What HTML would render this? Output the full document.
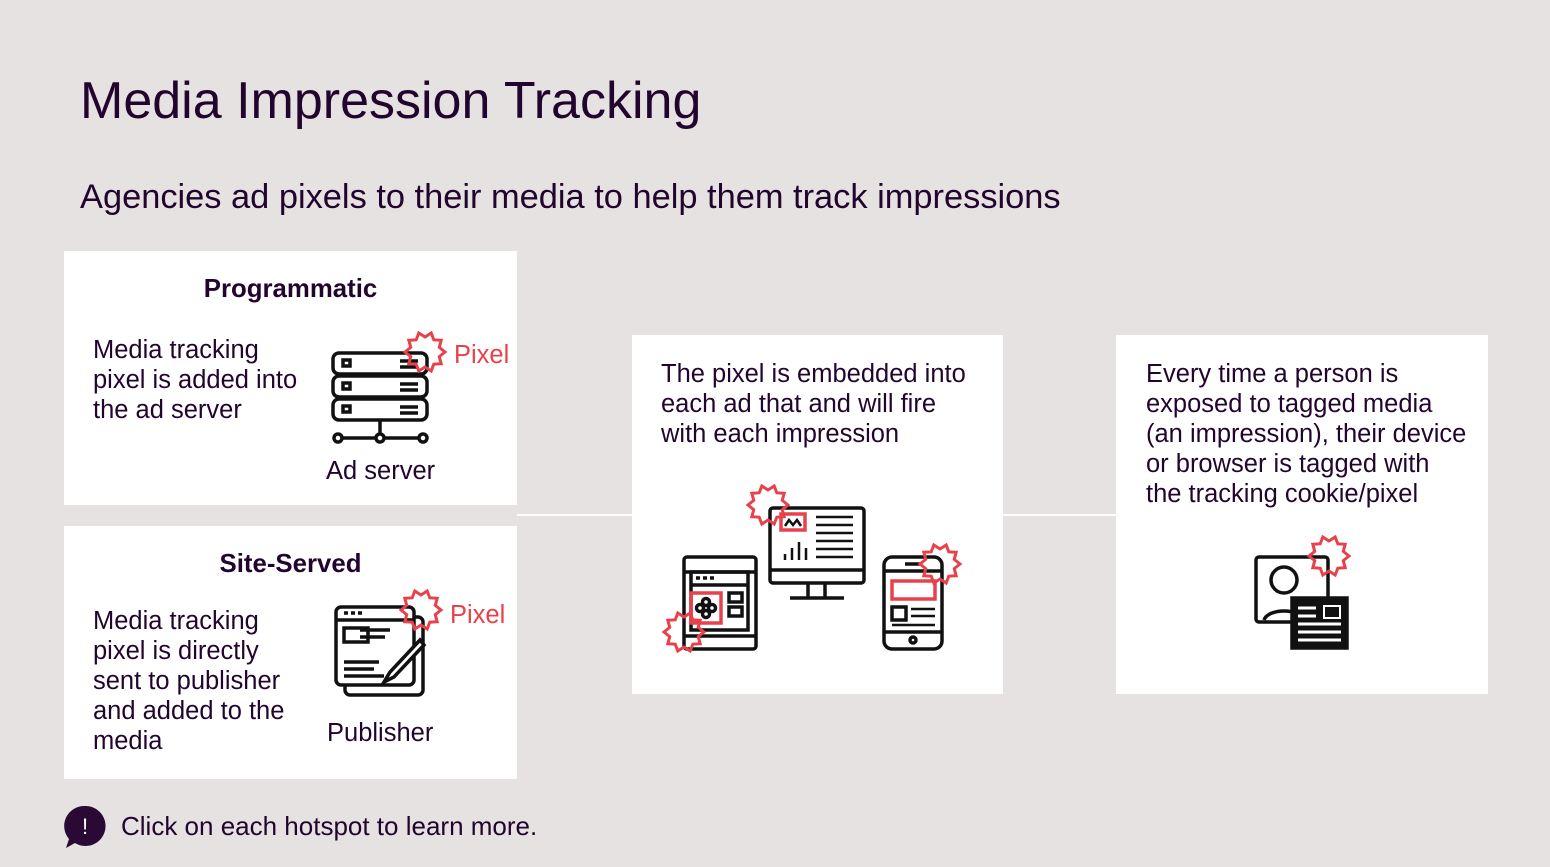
<!DOCTYPE html>
<html><head><meta charset="utf-8"><style>
body{margin:0;width:1550px;height:867px;background:#e6e2e1;font-family:"Liberation Sans",sans-serif;color:#22052e;position:relative;overflow:hidden}
.a{position:absolute}
.box{position:absolute;background:#fff}
.t{font-size:25.5px;line-height:30px;position:absolute}
.red{color:#e8414b}
</style></head><body>
<div class="a" style="left:80px;top:71px;font-size:52px">Media Impression Tracking</div>
<div class="a" style="left:80px;top:178px;font-size:34.4px">Agencies ad pixels to their media to help them track impressions</div>
<div class="box" style="left:64px;top:251px;width:453px;height:254px"></div>
<div class="box" style="left:64px;top:526px;width:453px;height:253px"></div>
<div class="box" style="left:632px;top:335px;width:371px;height:359px"></div>
<div class="box" style="left:1116px;top:335px;width:372px;height:359px"></div>
<div class="a" style="left:517px;top:514px;width:115px;height:2px;background:#fff"></div>
<div class="a" style="left:1003px;top:514px;width:113px;height:2px;background:#fff"></div>

<div class="a" style="left:64px;width:453px;top:275px;text-align:center;font-weight:bold;font-size:25.8px">Programmatic</div>
<div class="t" style="left:93px;top:335px">Media tracking<br>pixel is added into<br>the ad server</div>
<div class="t red" style="left:454px;top:340px">Pixel</div>
<div class="t" style="left:326px;top:456px">Ad server</div>

<div class="a" style="left:64px;width:453px;top:550px;text-align:center;font-weight:bold;font-size:25.8px">Site-Served</div>
<div class="t" style="left:93px;top:606px">Media tracking<br>pixel is directly<br>sent to publisher<br>and added to the<br>media</div>
<div class="t red" style="left:450px;top:600px">Pixel</div>
<div class="t" style="left:327px;top:718px">Publisher</div>

<div class="t" style="left:661px;top:359px">The pixel is embedded into<br>each ad that and will fire<br>with each impression</div>
<div class="t" style="left:1146px;top:359px">Every time a person is<br>exposed to tagged media<br>(an impression), their device<br>or browser is tagged with<br>the tracking cookie/pixel</div>

<div class="a" style="left:121px;top:811px;font-size:26px">Click on each hotspot to learn more.</div>

<svg class="a" style="left:0;top:0" width="1550" height="867" viewBox="0 0 1550 867">
<defs><polygon id="st" fill="none" stroke="#e8414b" stroke-width="3" points="20,0 14.27,4.64 16.18,11.76 8.82,12.14 6.18,19.02 0,15 -6.18,19.02 -8.82,12.14 -16.18,11.76 -14.27,4.64 -20,0 -14.27,-4.64 -16.18,-11.76 -8.82,-12.14 -6.18,-19.02 0,-15 6.18,-19.02 8.82,-12.14 16.18,-11.76 14.27,-4.64"/></defs>
<g fill="none" stroke="#111" stroke-width="3.5">
<rect x="333" y="353" width="94" height="21" rx="6"/><rect x="333" y="376" width="94" height="21" rx="6"/><rect x="333" y="399" width="94" height="21" rx="6"/>
<rect x="343" y="360" width="7" height="6"/><rect x="343" y="383" width="7" height="6"/><rect x="343" y="406" width="7" height="6"/>
<path d="M400 361h18M400 367h18M400 384h18M400 390h18M400 407h18M400 413h18M380 420v18M343 438h75"/>
<circle cx="338" cy="438" r="4" fill="#fff"/><circle cx="380" cy="438" r="4" fill="#fff"/><circle cx="423" cy="438" r="4" fill="#fff"/>
<rect x="345" y="617" width="78" height="78" rx="5"/><rect x="336" y="607" width="78" height="78" rx="5" fill="#fff"/>
<path d="M336 620h78M344 613h4M351 613h4M358 613h4M360 630h30M360 637h25M344 662h35M344 669h30M344 676h40"/>
<rect x="344" y="628" width="24" height="14"/>
<path d="M420 640l-30 32-6 10 10-5 30-32z" fill="#fff"/>
<rect x="684" y="557" width="72" height="92" rx="3"/><path d="M684 572h72M684 636h72"/><rect x="691" y="572" width="57" height="58"/>
<path d="M691 585h57M696 578h4M703 578h4M710 578h4"/><rect x="729" y="593" width="13" height="9"/><rect x="729" y="607" width="13" height="9"/>
<rect x="691" y="593" width="30" height="30" stroke="#e8414b"/>
<circle cx="706" cy="602" r="3.5"/><circle cx="706" cy="614" r="3.5"/><circle cx="700" cy="608" r="3.5"/><circle cx="712" cy="608" r="3.5"/>
<rect x="770" y="508" width="94" height="75" rx="3"/><path d="M770 570h94M808 583v15M825 583v15M790 598h54"/>
<rect x="781" y="514" width="24" height="16" stroke="#e8414b"/><path d="M785 526l4-6 4 5 4-5 4 6" stroke-width="2.5"/>
<path d="M785 560v-6M792 560v-12M799 560v-18M806 560v-12M816 517h37M816 525h37M816 533h37M816 541h37M816 549h37M816 557h37" stroke-width="2.5"/>
<rect x="884" y="557" width="58" height="92" rx="8"/><path d="M884 571h58M884 632h58M905 564h16"/>
<rect x="892" y="581" width="43" height="18" stroke="#e8414b"/><rect x="892" y="607" width="14" height="13"/><path d="M911 609h24M911 616h24M892 625h43" stroke-width="2.5"/>
<circle cx="913" cy="640" r="3"/>
<rect x="1256" y="557" width="72" height="65" rx="3"/><circle cx="1284" cy="580" r="13"/><path d="M1264 620c4-12 36-12 40 0"/>
<rect x="1292" y="598" width="55" height="50" fill="#111"/><path d="M1298 608h18M1298 616h18M1298 624h43M1298 632h43M1298 640h43" stroke="#fff" stroke-width="3"/><rect x="1324" y="606" width="16" height="12" stroke="#fff" stroke-width="2"/>
</g>
<use href="#st" x="425" y="352"/><use href="#st" x="421" y="610"/>
<use href="#st" x="768" y="505"/><use href="#st" x="684" y="632"/><use href="#st" x="940" y="564"/><use href="#st" x="1329" y="556"/>
<path d="M85 806a20 20 0 1 1 -10 37l-9 5 3-9a20 20 0 0 1 16-33z" fill="#2a0a35"/>
<text x="85" y="834" fill="#fff" font-size="22" text-anchor="middle" font-family="Liberation Sans">!</text>
</svg>
</body></html>
